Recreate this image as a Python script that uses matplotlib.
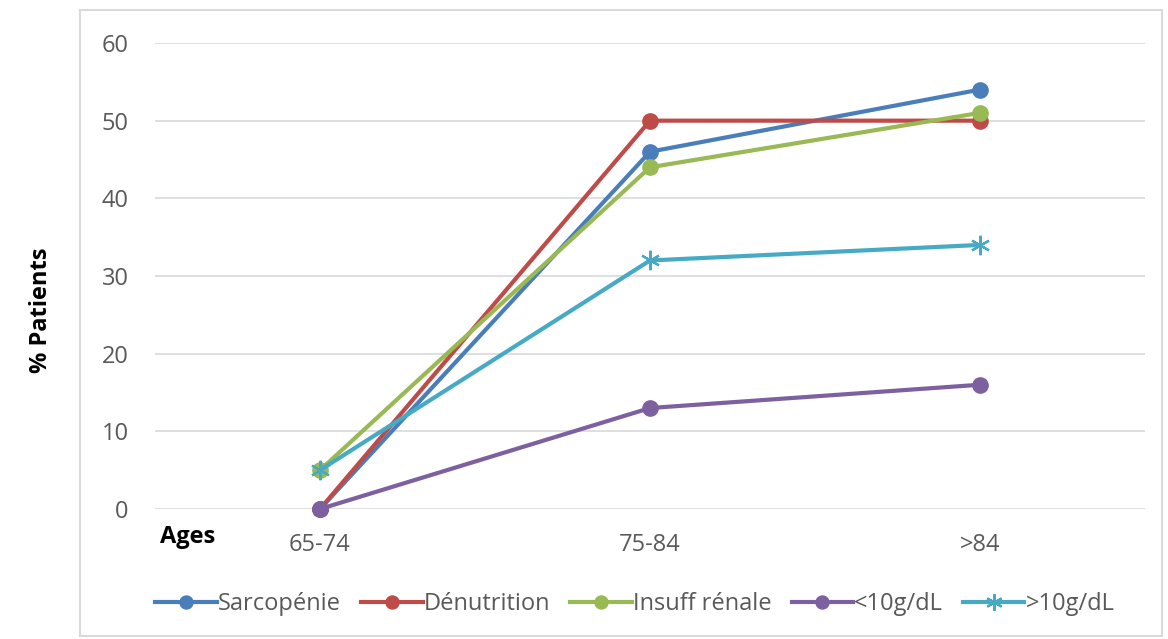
import matplotlib
matplotlib.use("Agg")
import matplotlib.pyplot as plt
from matplotlib.patches import Rectangle

plt.rcParams['font.family'] = ['Open Sans', 'DejaVu Sans']

age_groups = ["65-74", "75-84", ">84"]
sarcopenie = [0, 46, 54]
denutrition = [0, 50, 50]
insuff_renale = [5, 44, 51]
hb_low = [0, 13, 16]
hb_high = [5, 32, 34]
series_names = ["Sarcopénie", "Dénutrition", "Insuff rénale", "<10g/dL", ">10g/dL"]
y_ticks = [0, 10, 20, 30, 40, 50, 60]

colors = ["#4A7EBB", "#BE4B48", "#98B954", "#7D60A0", "#46AAC5"]

fig = plt.figure(figsize=(11.68, 6.39), dpi=100)
W, H = 1168, 639
ax = fig.add_axes([155 / W, 1 - 509 / H, 990 / W, 466 / H])

# outer chart frame
fig.patches.append(Rectangle((80 / W, 1 - 636 / H), 1082 / W, 626 / H,
                             transform=fig.transFigure, fill=False,
                             edgecolor="#D9D9D9", linewidth=1.5))

x = list(range(len(age_groups)))
all_series = [sarcopenie, denutrition, insuff_renale, hb_low, hb_high]
for vals, name, c in zip(all_series, series_names, colors):
    if name == ">10g/dL":
        ax.plot(x, vals, color=c, linewidth=3.0, marker=(6, 2, 0),
                markersize=14, markeredgewidth=1.6, label=name, clip_on=False,
                zorder=3)
    else:
        ax.plot(x, vals, color=c, linewidth=3.0, marker="o", markersize=11,
                label=name, clip_on=False, zorder=3)

ax.set_xlim(-0.5, 2.5)
ax.set_ylim(0, 60)
ax.set_yticks(y_ticks)
ax.set_xticks(x)
ax.set_xticklabels(age_groups)
ax.grid(axis="y", color="#D9D9D9", linewidth=1.2)
ax.set_axisbelow(True)
for s in ax.spines.values():
    s.set_visible(False)
ax.tick_params(length=0, labelsize=17, labelcolor="#595959")
ax.tick_params(axis="y", pad=19)
ax.tick_params(axis="x", pad=17)

fig.text(41 / W, 1 - 310 / H, "% Patients", rotation=90, ha="center",
         va="center", fontsize=17, fontweight="bold", color="black")
fig.text(160 / W, 1 - 537 / H, "Ages", ha="left", va="center",
         fontsize=17, fontweight="bold", color="black")

fig.legend(loc="center", bbox_to_anchor=(635 / W, 1 - 604 / H), ncol=5,
           frameon=False, fontsize=17, handlelength=2.6, handletextpad=0.05,
           columnspacing=0.85, markerscale=0.85, labelcolor="#595959")

fig.savefig("out.png", dpi=100, facecolor="white")
